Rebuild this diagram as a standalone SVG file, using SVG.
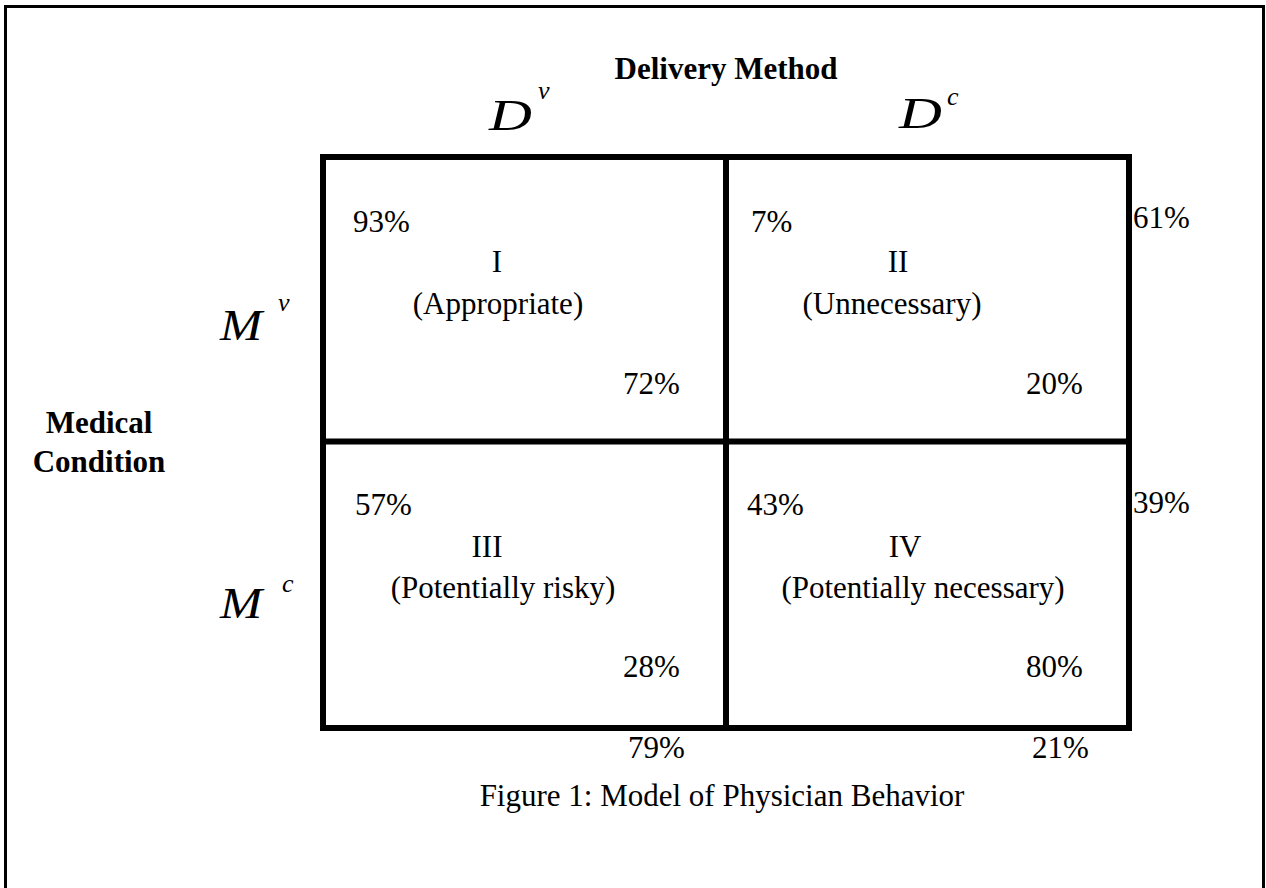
<svg xmlns="http://www.w3.org/2000/svg" width="1266" height="888" viewBox="0 0 1266 888">
  <style>
    .t { font-family: "Liberation Serif", "Times New Roman", serif; font-size: 31px; fill: #000; }
    .b { font-weight: bold; }
    .it { font-style: italic; }
    .big { font-size: 44px; }
    .bigm { font-size: 44px; }
    .sup { font-size: 26px; }
    .mid { text-anchor: middle; }
    .frame { fill: none; stroke: #000; stroke-width: 3; }
    .grid { fill: none; stroke: #000; stroke-width: 6; }
  </style>
  <rect width="1266" height="888" fill="#fff"/>
  <g id="frame">
    <path class="frame" d="M5.5,888 V6.5 H1263.5 V888"/>
  </g>
  <g id="grid">
    <rect class="grid" x="323" y="157" width="806" height="571"/>
  </g>
  <g id="connectors">
    <line class="grid" x1="726" y1="157" x2="726" y2="728"/>
    <line class="grid" x1="323" y1="441.5" x2="1129" y2="441.5"/>
  </g>
  <g id="axis-delivery">
    <text class="t b mid" x="726" y="79">Delivery Method</text>
    <text class="t it big" transform="translate(489,130) scale(1.35,1)">D</text>
    <text class="t it sup" x="538" y="99">v</text>
    <text class="t it big" transform="translate(899,128) scale(1.35,1)">D</text>
    <text class="t it sup" x="947" y="105">c</text>
  </g>
  <g id="axis-medical">
    <text class="t b mid" x="99" y="433">Medical</text>
    <text class="t b mid" x="99" y="472">Condition</text>
    <text class="t it bigm" transform="translate(220,340) scale(1.15,1)">M</text>
    <text class="t it sup" x="278" y="311">v</text>
    <text class="t it bigm" transform="translate(220,618) scale(1.15,1)">M</text>
    <text class="t it sup" x="282" y="592">c</text>
  </g>
  <g id="cell-I">
    <text class="t" x="353" y="232">93%</text>
    <text class="t mid" x="497" y="272">I</text>
    <text class="t mid" x="498" y="314">(Appropriate)</text>
    <text class="t" x="623" y="394">72%</text>
  </g>
  <g id="cell-II">
    <text class="t" x="751" y="232">7%</text>
    <text class="t mid" x="898" y="272">II</text>
    <text class="t mid" x="892" y="314">(Unnecessary)</text>
    <text class="t" x="1026" y="394">20%</text>
  </g>
  <g id="cell-III">
    <text class="t" x="355" y="515">57%</text>
    <text class="t mid" x="487" y="557">III</text>
    <text class="t mid" x="503" y="598">(Potentially risky)</text>
    <text class="t" x="623" y="677">28%</text>
  </g>
  <g id="cell-IV">
    <text class="t" x="747" y="515">43%</text>
    <text class="t mid" x="905" y="557">IV</text>
    <text class="t mid" x="923" y="598">(Potentially necessary)</text>
    <text class="t" x="1026" y="677">80%</text>
  </g>
  <g id="margins">
    <text class="t" x="1133" y="228">61%</text>
    <text class="t" x="1133" y="513">39%</text>
    <text class="t" x="628" y="758">79%</text>
    <text class="t" x="1032" y="758">21%</text>
  </g>
  <g id="caption">
    <text class="t mid" x="722" y="806">Figure 1: Model of Physician Behavior</text>
  </g>
</svg>
